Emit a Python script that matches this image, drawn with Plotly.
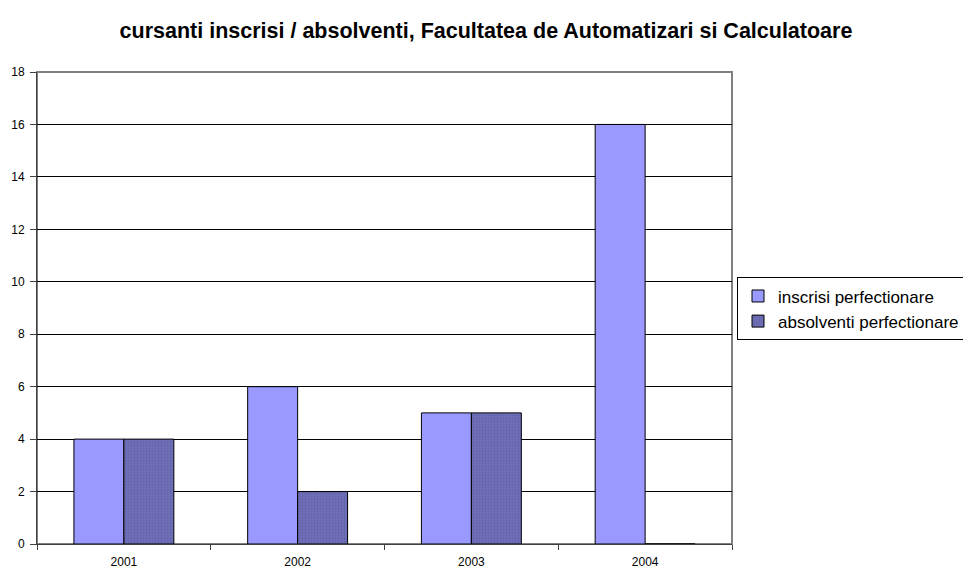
import plotly.graph_objects as go

years = ["2001", "2002", "2003", "2004"]
inscrisi = [4, 6, 5, 16]
absolventi = [4, 2, 5, 0]
y_ticks = [0, 2, 4, 6, 8, 10, 12, 14, 16, 18]

fig = go.Figure()
fig.add_trace(go.Bar(
    x=years, y=inscrisi, name="inscrisi perfectionare",
    marker=dict(color="#9999FF", line=dict(color="#000000", width=1)),
))
fig.add_trace(go.Bar(
    x=years, y=absolventi, name="absolventi perfectionare",
    marker=dict(color="#6F6FB8", line=dict(color="#000000", width=1),
                pattern=dict(shape=".", fgcolor="#55559A", size=3, solidity=0.3)),
))

# page body adds an 8px offset, so the figure is 8px smaller than the window
W, H = 963, 561
fig.update_layout(
    width=W, height=H,
    margin=dict(l=29, r=239, t=64, b=25, autoexpand=False),
    paper_bgcolor="white", plot_bgcolor="white",
    barmode="group", bargap=0.425, bargroupgap=0,
    font=dict(family="Arial, Liberation Sans, sans-serif", color="#000000"),
    title=dict(text="<b>cursanti inscrisi / absolventi, Facultatea de Automatizari si Calculatoare</b>",
               x=(486 - 8) / W, xanchor="center", y=1 - 22 / H, yanchor="middle",
               yref="container", xref="container", font=dict(size=21.5)),
    legend=dict(x=(737 - 37) / 695, xanchor="left", y=0.498, yanchor="middle",
                bordercolor="#000000", borderwidth=1, font=dict(size=17),
                itemwidth=30, tracegroupgap=0),
    xaxis=dict(showgrid=False, ticks="outside", tickson="boundaries", ticklen=5,
               tickcolor="#404040", showline=True, linecolor="#404040", linewidth=1,
               tickfont=dict(size=12), automargin=False, ticklabelstandoff=7),
    yaxis=dict(range=[0, 18], tickvals=y_ticks, showgrid=True, gridcolor="#000000",
               gridwidth=1, ticks="outside", ticklen=6, tickcolor="#404040",
               showline=True, linecolor="#404040", linewidth=1, zeroline=False,
               tickfont=dict(size=12), automargin=False, ticklabelstandoff=3),
    shapes=[dict(type="rect", xref="paper", yref="paper", x0=0, x1=1, y0=0, y1=1,
                 line=dict(color="#808080", width=2), layer="below")],
)

fig.write_html("out.html")
